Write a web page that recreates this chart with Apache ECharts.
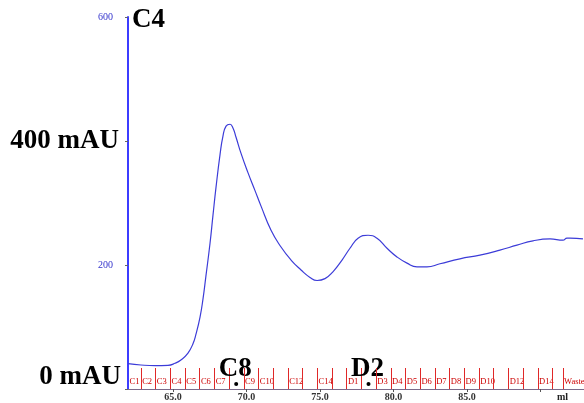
<!DOCTYPE html>
<html><head><meta charset="utf-8">
<script src="https://cdn.jsdelivr.net/npm/echarts@6/dist/echarts.min.js"></script>
<style>html,body{margin:0;padding:0;background:#fff}#c{width:584px;height:403px}</style>
</head><body><div id="c"></div>
<script>
// Chromatogram trace (volume in ml, absorbance in mAU)
const volume = [61.94, 62.82, 63.78, 64.66, 65.14, 65.54, 66.02, 66.36, 66.56, 66.84, 67.04, 67.24, 67.52, 67.72, 67.93, 68.20, 68.40, 68.61, 68.88, 69.08, 69.29, 69.63, 70.10, 70.58, 70.99, 71.67, 72.35, 73.03, 73.71, 74.32, 74.80, 75.34, 75.88, 76.50, 77.04, 77.59, 78.27, 78.88, 79.56, 80.24, 80.92, 81.60, 82.28, 83.16, 84.52, 85.88, 87.24, 88.40, 89.49, 90.65, 91.53, 91.80, 92.01, 92.89];
const absorbance = [41, 38.7, 37.6, 38.2, 41.5, 46.8, 58, 73, 88, 116, 145, 182, 235, 280, 326, 378, 408, 424, 427, 421, 406, 380, 349, 320, 295, 256, 229, 208, 192, 180, 175, 178, 189, 208, 227, 243, 248, 243, 227, 213, 203, 197, 197, 202, 210, 216, 224, 232, 239, 242, 240, 243.5, 243.5, 242];

// Fractions
const fracNames = ['C1','C2','C3','C4','C5','C6','C7','C8','C9','C10','C11','C12','C13','C14','C15','D1','D2','D3','D4','D5','D6','D7','D8','D9','D10','D11','D12','D13','D14','D15','Waste'];
const fracLabels = ['C1','C2','C3','C4','C5','C6','C7','C8','C9','C10','','C12','','C14','','D1','D2','D3','D4','D5','D6','D7','D8','D9','D10','','D12','','D14','','Waste'];
const fracStart = [61.8, 62.8, 63.8, 64.8, 65.8, 66.8, 67.8, 68.8, 69.8, 70.8, 71.8, 72.8, 73.8, 74.8, 75.8, 76.8, 77.8, 78.8, 79.8, 80.8, 81.8, 82.8, 83.8, 84.8, 85.8, 86.8, 87.8, 88.8, 89.8, 90.8, 91.5];
const markedFractions = ['C8', 'D2'];
const fracEndLast = 93.5;

// Axes
const xMin = 61.94, xMax = 92.96;
const xTickValues = [65, 70, 75, 80, 85, 90];
const xLabelValues = [65, 70, 75, 80, 85];
const yMin = 0, yMax = 600, yInterval = 200;
const yTickText = {0: '0 mAU', 200: '200', 400: '400 mAU', 600: '600'};
const xUnit = 'ml';
const chartTitle = 'C4';

const serif = '"Liberation Serif","Times New Roman",serif';
const chart = echarts.init(document.getElementById('c'), null, {renderer: 'canvas'});

const fracData = fracStart.map((s, i) => [s, i < fracStart.length - 1 ? fracStart[i + 1] : fracEndLast, i]);

chart.setOption({
  animation: false,
  backgroundColor: '#fff',
  title: {
    text: chartTitle, left: 127, top: 2,
    textStyle: {fontFamily: serif, fontSize: 27, fontWeight: 'bold', color: '#000'}
  },
  grid: {left: 128, right: 0, top: 17, bottom: 14, containLabel: false},
  xAxis: {
    type: 'value', min: xMin, max: xMax,
    name: xUnit, nameLocation: 'end', nameGap: -27,
    nameTextStyle: {fontFamily: serif, fontSize: 10, fontWeight: 'bold', color: '#222', verticalAlign: 'top', padding: [3, 0, 0, 0]},
    axisLine: {show: true, onZero: false, lineStyle: {color: '#7a6a8a', width: 1}},
    axisTick: {show: true, length: 3, customValues: xTickValues, lineStyle: {color: '#555'}},
    axisLabel: {
      customValues: xLabelValues, margin: 3,
      formatter: v => v.toFixed(1),
      fontFamily: serif, fontSize: 10, fontWeight: 'bold', color: '#333'
    },
    splitLine: {show: false}
  },
  yAxis: {
    type: 'value', min: yMin, max: yMax, interval: yInterval,
    axisLine: {show: true, lineStyle: {color: '#3c3cff', width: 2}},
    axisTick: {show: true, length: 3, lineStyle: {color: '#666'}},
    axisLabel: {
      margin: 9,
      formatter: v => {
        const t = yTickText[v];
        if (v === 0) return '{big0|' + t + '}';
        if (t && t.indexOf('mAU') >= 0) return '{big|' + t + '}';
        return '{small|' + t + '}';
      },
      rich: {
        big: {fontFamily: serif, fontSize: 27, fontWeight: 'bold', color: '#000'},
        big0: {fontFamily: serif, fontSize: 27, fontWeight: 'bold', color: '#000', padding: [0, -2, 24, 0]},
        small: {fontFamily: serif, fontSize: 10, color: '#3333cc', padding: [0, 6, 0, 0]}
      }
    },
    splitLine: {show: false}
  },
  series: [
    {
      type: 'line',
      data: volume.map((v, i) => [v, absorbance[i]]),
      showSymbol: false,
      smooth: 0.5,
      lineStyle: {color: '#3c3cd8', width: 1.2},
      z: 3
    },
    {
      type: 'custom',
      data: fracData,
      clip: false,
      z: 4,
      renderItem: (params, api) => {
        const s = api.value(0), e = api.value(1), idx = api.value(2);
        const p0 = api.coord([s, 0]);
        const p1 = api.coord([e, 0]);
        const left = params.coordSys.x;
        const right = params.coordSys.x + params.coordSys.width;
        const children = [];
        const lx = Math.round(p0[0]) + 0.5;
        if (p0[0] >= left + 1 && p0[0] <= right) {
          children.push({type: 'line', shape: {x1: lx, y1: p0[1], x2: lx, y2: p0[1] - 21}, style: {stroke: '#e02828', lineWidth: 1}});
        }
        const name = fracNames[idx];
        if (markedFractions.indexOf(name) >= 0) {
          const mx = (p0[0] + p1[0]) / 2;
          children.push({type: 'circle', shape: {cx: mx, cy: p0[1] - 5, r: 2}, style: {fill: '#000'}});
          children.push({type: 'text', style: {text: name, x: mx - 1, y: p0[1] - 20, align: 'center', verticalAlign: 'middle', textAlign: 'center', textVerticalAlign: 'middle', font: 'bold 27px ' + serif, fill: '#000'}});
        } else if (fracLabels[idx]) {
          children.push({type: 'text', style: {text: fracLabels[idx], x: Math.max(p0[0], left) + 1.5, y: p0[1] - 7, align: 'left', verticalAlign: 'middle', textAlign: 'left', textVerticalAlign: 'middle', font: '8.5px ' + serif, fill: '#cc0000'}});
        }
        return {type: 'group', children: children};
      }
    }
  ]
});
</script>
</body></html>
